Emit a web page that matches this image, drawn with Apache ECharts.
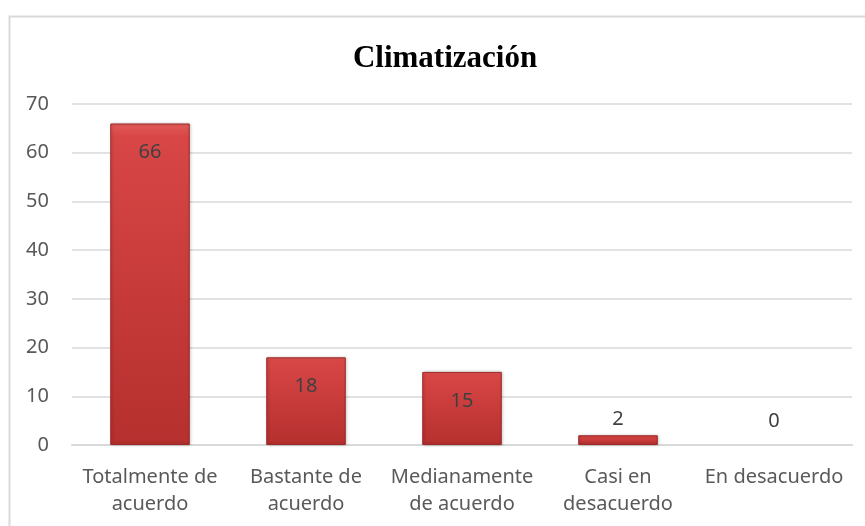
<!DOCTYPE html>
<html>
<head>
<meta charset="utf-8">
<script src="https://cdn.jsdelivr.net/npm/echarts@6/dist/echarts.min.js"></script>
<style>
  html, body { margin: 0; padding: 0; background: #fff; }
  #chart { width: 865px; height: 526px; }
</style>
</head>
<body>
<div id="chart"></div>
<script>
var categories = ['Totalmente de\nacuerdo', 'Bastante de\nacuerdo', 'Medianamente\nde acuerdo', 'Casi en\ndesacuerdo', 'En desacuerdo'];
var values = [66, 18, 15, 2, 0];
var yTicks = { min: 0, max: 70, interval: 10 };

var barColor = {
    type: 'linear', x: 0, y: 0, x2: 0, y2: 1,
    colorStops: [
        { offset: 0, color: '#e35b5b' },
        { offset: 0.04, color: '#d84646' },
        { offset: 1, color: '#b5302e' }
    ]
};

var seriesData = values.map(function (v) {
    var item = {
        value: v,
        label: v >= 10
            ? { position: 'insideTop', distance: 19 }
            : { position: 'top', distance: v === 0 ? 14 : 6 }
    };
    // Excel draws nothing for a zero bar, only its label
    if (v === 0) item.itemStyle = { color: 'transparent', borderWidth: 0, shadowBlur: 0, shadowOffsetX: 0 };
    return item;
});

var option = {
    animation: false,
    title: {
        text: 'Climatización',
        left: 440,
        top: 38,
        textAlign: 'center',
        textStyle: {
            fontFamily: 'Liberation Serif, Times New Roman, serif',
            fontWeight: 'bold',
            fontSize: 31,
            color: '#000'
        }
    },
    graphic: [{
        type: 'rect',
        shape: { x: 9.5, y: 16.5, width: 900, height: 600 },
        style: { fill: 'none', stroke: '#d9d9d9', lineWidth: 2 },
        silent: true
    }],
    grid: { left: 72, right: 13, top: 104, bottom: 81 },
    xAxis: {
        type: 'category',
        data: categories,
        axisLine: { lineStyle: { color: '#d9d9d9', width: 2 } },
        axisTick: { show: false },
        axisLabel: {
            color: '#595959',
            fontSize: 20,
            lineHeight: 27,
            margin: 19,
            interval: 0,
            fontFamily: 'Noto Sans, sans-serif'
        }
    },
    yAxis: {
        type: 'value',
        min: yTicks.min,
        max: yTicks.max,
        interval: yTicks.interval,
        axisLine: { show: false },
        axisTick: { show: false },
        axisLabel: {
            color: '#595959',
            fontSize: 20,
            margin: 23,
            fontFamily: 'Noto Sans, sans-serif'
        },
        splitLine: { lineStyle: { color: '#d9d9d9', width: 1.5 } }
    },
    series: [{
        type: 'bar',
        data: seriesData,
        barWidth: '51%',
        itemStyle: {
            color: barColor,
            borderColor: '#9e2a28',
            borderWidth: 1,
            shadowColor: 'rgba(0,0,0,0.25)',
            shadowBlur: 3,
            shadowOffsetX: 1
        },
        label: {
            show: true,
            color: '#404040',
            fontSize: 20,
            fontFamily: 'Noto Sans, sans-serif'
        }
    }]
};

var chart = echarts.init(document.getElementById('chart'));
chart.setOption(option);
</script>
</body>
</html>
